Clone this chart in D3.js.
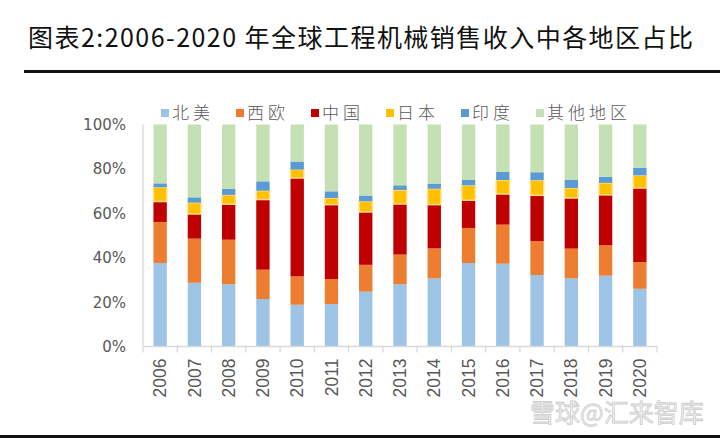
<!DOCTYPE html>
<html>
<head>
<meta charset="utf-8">
<script src="https://cdn.jsdelivr.net/npm/d3@7/dist/d3.min.js"></script>
<style>
  html, body { margin: 0; padding: 0; background: #fff; }
  svg { display: block; }
</style>
</head>
<body>
<svg id="chart" width="720" height="438"></svg>
<script>
// ---- Data (shares, %) ----
const years = ["2006","2007","2008","2009","2010","2011","2012","2013","2014","2015","2016","2017","2018","2019","2020"];
const seriesNames = ["北美","西欧","中国","日本","印度","其他地区"];
const northAmerica = [37.6, 28.7, 28.0, 21.4, 18.8, 19.1, 24.7, 28.1, 30.7, 37.6, 37.3, 32.2, 30.7, 31.9, 26.0];
const westEurope   = [18.5, 19.9, 20.1, 13.2, 12.8, 11.3, 12.1, 13.3, 13.5, 15.8, 17.6, 15.3, 13.4, 13.7, 12.0];
const china        = [ 9.2, 11.1, 16.0, 31.6, 44.3, 33.5, 23.8, 22.8, 19.7, 12.5, 13.8, 20.6, 22.8, 22.7, 33.4];
const japan        = [ 6.4,  5.1,  4.2,  4.0,  3.8,  3.0,  4.8,  6.3,  7.2,  6.7,  6.3,  6.8,  4.5,  5.4,  5.7];
const india        = [ 1.8,  2.4,  2.7,  4.2,  3.6,  3.0,  2.6,  2.1,  2.3,  2.4,  3.6,  3.6,  3.8,  2.8,  3.4];
const others       = [26.5, 32.8, 29.0, 25.6, 16.7, 30.1, 32.0, 27.4, 26.6, 25.0, 21.4, 21.5, 24.8, 23.5, 19.5];
const yTicks = [0, 20, 40, 60, 80, 100];
const colors = ["#9DC3E6", "#ED7D31", "#C00000", "#FFC000", "#5B9BD5", "#C5E0B4"];

const seriesValues = [northAmerica, westEurope, china, japan, india, others];
const table = years.map((y, i) => {
  const row = { year: y };
  seriesNames.forEach((s, k) => row[s] = seriesValues[k][i]);
  return row;
});

const svg = d3.select("#chart");

// ---- Title ----
svg.append("text")
  .attr("x", 28).attr("y", 47)
  .attr("font-family", "'Noto Sans CJK SC', sans-serif")
  .attr("font-size", 25)
  .attr("fill", "#111")
  .attr("textLength", 665)
  .attr("lengthAdjust", "spacing")
  .text("图表2:2006-2020 年全球工程机械销售收入中各地区占比");

svg.append("rect").attr("x", 24).attr("y", 70).attr("width", 696).attr("height", 3).attr("fill", "#111");
svg.append("rect").attr("x", 0).attr("y", 435).attr("width", 720).attr("height", 3).attr("fill", "#111");

// ---- Scales ----
const x = d3.scaleBand().domain(years).range([143, 657]).paddingInner(0.61).paddingOuter(0.305);
const y = d3.scaleLinear().domain([0, 100]).range([346.5, 124.5]);

const stack = d3.stack().keys(seriesNames);
const stacked = stack(table);

// ---- Bars ----
const groups = svg.append("g").selectAll("g").data(stacked).join("g")
  .attr("fill", (d, i) => colors[i]);

groups.each(function(layer, li) {
  d3.select(this).selectAll("rect").data(layer).join("rect")
    .attr("x", d => x(d.data.year))
    .attr("width", x.bandwidth())
    .attr("y", d => y(d[1]))
    .attr("height", d => y(d[0]) - y(d[1]))
    .attr("stroke", seriesNames[li] === "日本" ? "#FFE08A" : "none")
    .attr("stroke-width", seriesNames[li] === "日本" ? 1.5 : 0);
});

// ---- Axes ----
const axisColor = "#D9D9D9";
// y axis line
svg.append("line").attr("x1", 143).attr("x2", 143).attr("y1", y(100)).attr("y2", y(0))
  .attr("stroke", axisColor).attr("stroke-width", 1.3);
// x axis
const xAxis = svg.append("g").attr("transform", `translate(0,${y(0)})`);
xAxis.append("line").attr("x1", 143).attr("x2", 657).attr("y1", 0).attr("y2", 0)
  .attr("stroke", axisColor).attr("stroke-width", 1.3);
const step = x.step();
const boundaries = years.map(yr => x(yr) - (step - x.bandwidth()) / 2).concat([657]);
xAxis.selectAll("line.tick").data(boundaries).join("line")
  .attr("class", "tick")
  .attr("x1", d => d).attr("x2", d => d).attr("y1", 0).attr("y2", 6)
  .attr("stroke", axisColor).attr("stroke-width", 1.3);

xAxis.selectAll("text").data(years).join("text")
  .attr("transform", d => `translate(${x(d) + x.bandwidth() / 2},12) rotate(-90)`)
  .attr("text-anchor", "end")
  .attr("dy", "0.35em")
  .attr("font-family", "'Liberation Sans', Arial, sans-serif")
  .attr("font-size", 17.5)
  .attr("fill", "#595959")
  .text(d => d);

// y labels
svg.append("g").selectAll("text").data(yTicks).join("text")
  .attr("x", 126).attr("y", d => y(d))
  .attr("dy", "0.36em")
  .attr("text-anchor", "end")
  .attr("font-family", "'DejaVu Sans', 'Liberation Sans', sans-serif")
  .attr("font-size", 15)
  .attr("fill", "#595959")
  .text(d => d + "%");

// ---- Legend ----
const legend = svg.append("g").selectAll("g").data(seriesNames).join("g")
  .attr("transform", (d, i) => `translate(${161 + i * 75},113)`);
legend.append("rect")
  .attr("x", 0).attr("y", -4).attr("width", 8).attr("height", 8)
  .attr("fill", (d, i) => colors[i]);
legend.append("text")
  .attr("x", 11).attr("y", 0).attr("dy", "0.36em")
  .attr("font-family", "'Noto Sans CJK SC', sans-serif")
  .attr("font-weight", 300)
  .attr("font-size", 17)
  .attr("letter-spacing", 4)
  .attr("fill", "#595959")
  .text(d => d);

// ---- Watermark ----
svg.append("text")
  .attr("x", 530).attr("y", 422)
  .attr("font-family", "'Noto Sans CJK SC', sans-serif")
  .attr("font-size", 25)
  .attr("fill", "#f4f4f4")
  .attr("stroke", "#c4c4c4")
  .attr("stroke-width", 0.8)
  .attr("opacity", 0.85)
  .text("雪球@汇来智库");
</script>
</body>
</html>
